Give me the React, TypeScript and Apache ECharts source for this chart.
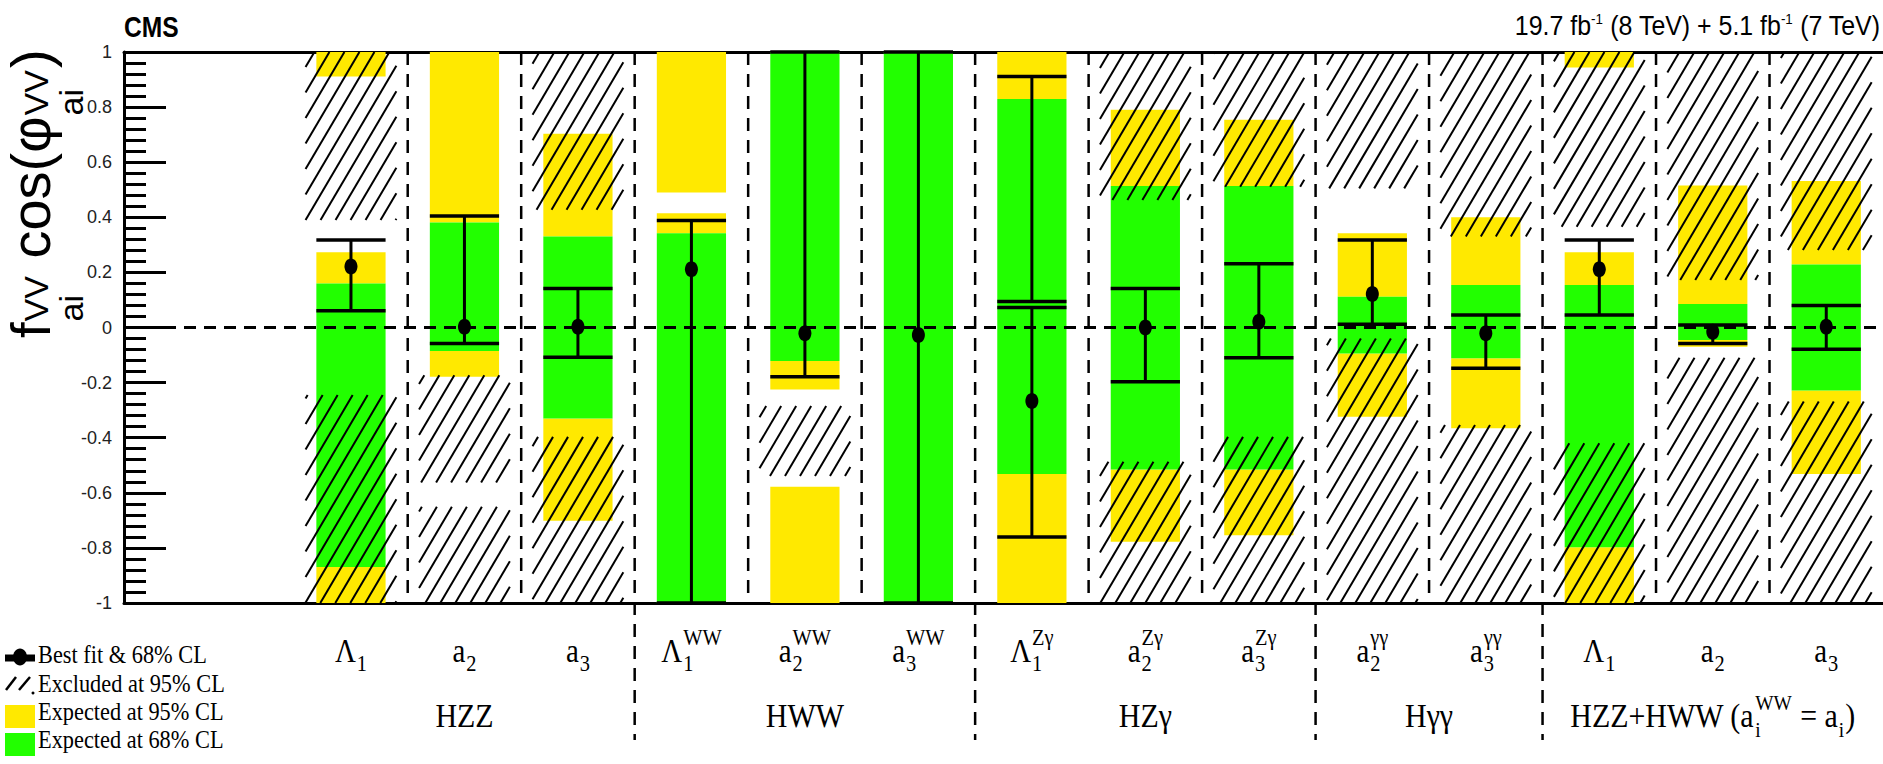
import React, { useEffect, useRef } from "react";
import * as echarts from "echarts";

// ---------- data ----------
const catMain = ["Λ", "a", "a", "Λ", "a", "a", "Λ", "a", "a", "a", "a", "Λ", "a", "a"];
const catSub = ["1", "2", "3", "1", "2", "3", "1", "2", "3", "2", "3", "1", "2", "3"];
const catSup = ["", "", "", "WW", "WW", "WW", "Zγ", "Zγ", "Zγ", "γγ", "γγ", "", "", ""];
const groupNames = ["HZZ", "HWW", "HZγ", "Hγγ"];
const groupCenters = [1, 4, 7, 9.5, 12];
const groupSeparators = [2.5, 5.5, 8.5, 10.5];
const categorySeparators = [0.5, 1.5, 3.5, 4.5, 6.5, 7.5, 9.5, 11.5, 12.5];

const bestFit = [0.221, 0.003, 0.003, 0.211, -0.021, -0.027, -0.267, 0.0, 0.021, 0.122, -0.021, 0.211, -0.015, 0.003];

const cl68: [number, number, number][] = [
  [0, 0.061, 0.318], [1, -0.058, 0.405], [2, -0.108, 0.142], [3, -1, 0.388],
  [4, -0.179, 1], [5, -1, 1], [6, 0.094, 0.911], [6, -0.76, 0.073],
  [7, -0.197, 0.142], [8, -0.11, 0.231], [9, 0.012, 0.318], [10, -0.148, 0.045],
  [11, 0.045, 0.318], [12, -0.058, 0.009], [13, -0.079, 0.08],
];

const expected68: [number, number, number][] = [
  [0, -0.869, 0.16], [1, -0.085, 0.381], [2, -0.33, 0.33], [3, -1, 0.342],
  [4, -0.122, 1], [5, -1, 1], [6, -0.532, 0.829], [7, -0.515, 0.514],
  [8, -0.515, 0.514], [9, -0.094, 0.112], [10, -0.112, 0.154], [11, -0.798, 0.154],
  [12, -0.045, 0.085], [13, -0.229, 0.229],
];

const expected95: [number, number, number][] = [
  [0, -1, -0.869], [0, 0.16, 0.273], [0, 0.911, 1],
  [1, -0.179, -0.085], [1, 0.381, 1],
  [2, -0.701, -0.33], [2, 0.33, 0.703],
  [3, 0.342, 0.415], [3, 0.49, 1],
  [4, -1, -0.578], [4, -0.225, -0.122],
  [6, -1, -0.532], [6, 0.829, 1],
  [7, -0.778, -0.515], [7, 0.514, 0.79],
  [8, -0.754, -0.515], [8, 0.514, 0.754],
  [9, -0.324, -0.094], [9, 0.112, 0.342],
  [10, -0.366, -0.112], [10, 0.154, 0.4],
  [11, -1, -0.798], [11, 0.154, 0.273], [11, 0.944, 1],
  [12, -0.07, -0.045], [12, 0.085, 0.515],
  [13, -0.532, -0.229], [13, 0.229, 0.532],
];

const excluded95: [number, number, number][] = [
  [0, 0.39, 1], [0, -1, -0.245],
  [1, -0.563, -0.173], [1, -1, -0.651],
  [2, 0.427, 1], [2, -1, -0.397],
  [4, -0.539, -0.285],
  [7, 0.463, 1], [7, -1, -0.487],
  [8, 0.511, 1], [8, -1, -0.397],
  [9, 0.505, 1], [9, -1, -0.04],
  [10, 0.33, 1], [10, -1, -0.354],
  [11, 0.366, 1], [11, -1, -0.42],
  [12, 0.172, 1], [12, -1, -0.11],
  [13, 0.281, 1], [13, -1, -0.269],
];

const legendLabels = ["Best fit & 68% CL", "Excluded at 95% CL", "Expected at 95% CL", "Expected at 68% CL"];

// ---------- styling ----------
const YELLOW = "#ffe900";
const GREEN = "#22ff00";
const SANS = '"Liberation Sans", Arial, sans-serif';
const SERIF = '"Liberation Serif", "Times New Roman", serif';
const BAR_W = 0.61;
const HATCH_W = 0.8;
const X_MIN = -2;
const X_MAX = 13.5;
const Y_MIN = -1;
const Y_MAX = 1;

let measureCtx: CanvasRenderingContext2D | null = null;
function tw(text: string, size: number, family: string, weight = "normal"): number {
  if (!measureCtx) measureCtx = document.createElement("canvas").getContext("2d");
  if (!measureCtx) return text.length * size * 0.5;
  measureCtx.font = `${weight} ${size}px ${family}`;
  return measureCtx.measureText(text).width;
}

function txt(x: number, baseline: number, text: string, size: number, family: string, align: string, extra: any = {}) {
  const k = family === SERIF ? 0.3375 : 0.3465;
  const { style: extraStyle, ...rest } = extra;
  return {
    type: "text",
    x,
    y: baseline - k * size,
    silent: true,
    ...rest,
    style: {
      text,
      fontSize: size,
      fontFamily: family,
      fill: "#000",
      align,
      textAlign: align,
      verticalAlign: "middle",
      textVerticalAlign: "middle",
      ...(extraStyle || {}),
    },
  };
}

function rectSeries(name: string, data: [number, number, number][], color: string) {
  return {
    type: "custom",
    name,
    data,
    silent: true,
    encode: { x: 0, y: [1, 2] },
    renderItem: (_p: any, api: any) => {
      const c = api.value(0);
      const top = api.coord([c, api.value(2)]);
      const bot = api.coord([c, api.value(1)]);
      const w = api.size([BAR_W, 0])[0];
      return {
        type: "rect",
        shape: { x: top[0] - w / 2, y: top[1], width: w, height: bot[1] - top[1] },
        style: { fill: color },
      };
    },
  };
}

function hatchSeries() {
  return {
    type: "custom",
    name: "Excluded at 95% CL",
    data: excluded95,
    silent: true,
    encode: { x: 0, y: [1, 2] },
    renderItem: (_p: any, api: any) => {
      const c = api.value(0);
      const top = api.coord([c, api.value(2)]);
      const bot = api.coord([c, api.value(1)]);
      const w = api.size([HATCH_W, 0])[0];
      const x0 = top[0] - w / 2, x1 = top[0] + w / 2, y0 = top[1], y1 = bot[1];
      const s = 1.7, step = 15;
      const children: any[] = [];
      const kMin = x0 + y0 / s, kMax = x1 + y1 / s;
      for (let k = Math.ceil(kMin / step) * step; k <= kMax; k += step) {
        const ya = Math.max(y0, s * (k - x1));
        const yb = Math.min(y1, s * (k - x0));
        if (yb - ya < 1) continue;
        children.push({
          type: "line",
          shape: { x1: k - ya / s, y1: ya, x2: k - yb / s, y2: yb },
          style: { stroke: "#000", lineWidth: 2 },
        });
      }
      return { type: "group", children };
    },
  };
}

function separatorSeries(data: number[], extend: number) {
  return {
    type: "custom",
    data: data.map((v) => [v, 0]),
    silent: true,
    clip: false,
    encode: { x: 0, y: 1 },
    renderItem: (_p: any, api: any) => {
      const b = api.value(0);
      const top = api.coord([b, Y_MAX]);
      const bot = api.coord([b, Y_MIN]);
      return {
        type: "line",
        shape: { x1: top[0], y1: top[1], x2: bot[0], y2: bot[1] + extend },
        style: { stroke: "#000", lineWidth: 2.5, lineDash: [13, 9] },
      };
    },
  };
}

const option: any = {
  animation: false,
  backgroundColor: "#fff",
  grid: { left: 124, right: 0, top: 52, bottom: 161, containLabel: false },
  xAxis: [
    {
      type: "value", min: X_MIN, max: X_MAX, position: "bottom",
      axisLine: { show: true, onZero: false, lineStyle: { color: "#000", width: 3 } },
      axisTick: { show: false }, axisLabel: { show: false }, splitLine: { show: false },
    },
    {
      type: "value", min: X_MIN, max: X_MAX, position: "top",
      axisLine: { show: true, onZero: false, lineStyle: { color: "#000", width: 3 } },
      axisTick: { show: false }, axisLabel: { show: false }, splitLine: { show: false },
    },
  ],
  yAxis: {
    type: "value", min: Y_MIN, max: Y_MAX, interval: 0.2,
    axisLine: { show: true, onZero: false, lineStyle: { color: "#000", width: 3 } },
    axisTick: { show: true, inside: true, length: 42, lineStyle: { color: "#000", width: 3 } },
    minorTick: { show: true, splitNumber: 5, length: 22, lineStyle: { color: "#000", width: 3 } },
    axisLabel: { fontSize: 18, fontFamily: SANS, color: "#222", margin: 12 },
    splitLine: { show: false },
  },
  series: [
    rectSeries("Expected at 95% CL", expected95, YELLOW),
    rectSeries("Expected at 68% CL", expected68, GREEN),
    hatchSeries(),
    separatorSeries(categorySeparators, 0),
    separatorSeries(groupSeparators, 137),
    {
      type: "custom",
      name: "68% CL",
      data: cl68,
      silent: true,
      encode: { x: 0, y: [1, 2] },
      renderItem: (_p: any, api: any) => {
        const c = api.value(0);
        const top = api.coord([c, api.value(2)]);
        const bot = api.coord([c, api.value(1)]);
        const w = api.size([BAR_W, 0])[0];
        const st = { stroke: "#000", lineWidth: 3 };
        return {
          type: "group",
          children: [
            { type: "line", shape: { x1: top[0], y1: top[1], x2: bot[0], y2: bot[1] }, style: st },
            { type: "line", shape: { x1: top[0] - w / 2, y1: top[1], x2: top[0] + w / 2, y2: top[1] }, style: { ...st, lineWidth: 3.5 } },
            { type: "line", shape: { x1: bot[0] - w / 2, y1: bot[1], x2: bot[0] + w / 2, y2: bot[1] }, style: { ...st, lineWidth: 3.5 } },
          ],
        };
      },
    },
    {
      type: "custom",
      name: "Best fit",
      data: bestFit.map((v, i) => [i, v]),
      silent: true,
      encode: { x: 0, y: 1 },
      renderItem: (_p: any, api: any) => {
        const p = api.coord([api.value(0), api.value(1)]);
        return { type: "ellipse", shape: { cx: p[0], cy: p[1], rx: 6.5, ry: 8 }, style: { fill: "#000" } };
      },
      markLine: {
        silent: true,
        symbol: "none",
        label: { show: false },
        lineStyle: { color: "#000", width: 3, type: [12, 8] },
        data: [{ yAxis: 0 }],
      },
    },
  ],
};

function buildGraphics(px: (v: number) => number): any[] {
  const els: any[] = [];
  // CMS
  els.push(txt(124, 37, "CMS", 30, SANS, "left", { scaleX: 0.82, style: { fontWeight: "bold" } }));
  // luminosity
  els.push({
    type: "text", x: 1880, y: 25, scaleX: 0.89, silent: true,
    style: {
      text: "{n|19.7 fb}{s|-1}{n| (8 TeV) + 5.1 fb}{s|-1}{n| (7 TeV)}",
      align: "right", textAlign: "right", verticalAlign: "middle", textVerticalAlign: "middle",
      fill: "#000",
      rich: {
        n: { fontSize: 28, fontFamily: SANS, fill: "#000", color: "#000" },
        s: { fontSize: 15, fontFamily: SANS, fill: "#000", color: "#000", verticalAlign: "top" },
      },
    },
  });

  // y-axis title (rotated)
  const F = 56, Fs = 34;
  const kS = 0.3465;
  const tChildren: any[] = [];
  let pos = 0;
  const mk = (x: number, baseline: number, t: string, size: number) => ({
    type: "text", x, y: baseline - kS * size, silent: true,
    style: { text: t, fontSize: size, fontFamily: SANS, fill: "#000", align: "left", textAlign: "left", verticalAlign: "middle", textVerticalAlign: "middle" },
  });
  tChildren.push(mk(pos, 0, "f", F));
  pos += tw("f", F, SANS) + 1;
  tChildren.push(mk(pos, -2, "VV", Fs));
  tChildren.push(mk(pos, 33, "ai", Fs));
  pos += Math.max(tw("VV", Fs, SANS), tw("ai", Fs, SANS)) + 2;
  tChildren.push(mk(pos, 0, " cos(φ", F));
  pos += tw(" cos(φ", F, SANS) + 1;
  tChildren.push(mk(pos, -2, "VV", Fs));
  tChildren.push(mk(pos, 33, "ai", Fs));
  pos += Math.max(tw("VV", Fs, SANS), tw("ai", Fs, SANS)) + 2;
  tChildren.push(mk(pos, 0, ")", F));
  els.push({ type: "group", x: 50, y: 338, rotation: Math.PI / 2, silent: true, children: tChildren });

  // category labels
  const FM = 34, FS = 24, SC = 0.85;
  for (let i = 0; i < catMain.length; i++) {
    const cx = px(i);
    const wm = tw(catMain[i], FM, SERIF) * SC;
    const ws = Math.max(tw(catSub[i], FS, SERIF), catSup[i] ? tw(catSup[i], FS, SERIF) : 0) * SC;
    const start = cx - (wm + ws + 1) / 2;
    els.push(txt(start, 662, catMain[i], FM, SERIF, "left", { scaleX: SC }));
    els.push(txt(start + wm + 1, 671, catSub[i], FS, SERIF, "left", { scaleX: SC }));
    if (catSup[i]) els.push(txt(start + wm + 1, 645, catSup[i], FS, SERIF, "left", { scaleX: SC }));
  }

  // group labels
  const FG = 34, GS = 0.88;
  for (let g = 0; g < groupNames.length; g++) {
    els.push(txt(px(groupCenters[g]), 727, groupNames[g], FG, SERIF, "center", { scaleX: GS }));
  }
  // combined group label: HZZ+HWW (a_i^WW = a_i)
  {
    const parts: [string, string][] = [["m", "HZZ+HWW (a"], ["ss", "WW|i"], ["m", " = a"], ["sub", "i"], ["m", ")"]];
    const FSS = 22;
    const widths = parts.map(([k, t]) => {
      if (k === "m") return tw(t, FG, SERIF) * GS;
      if (k === "ss") return Math.max(tw("WW", FSS, SERIF), tw("i", FSS, SERIF)) * GS + 2;
      return tw(t, FSS, SERIF) * GS + 2;
    });
    const total = widths.reduce((a, b) => a + b, 0);
    let x = px(groupCenters[4]) - total / 2;
    parts.forEach(([k, t], j) => {
      if (k === "m") els.push(txt(x, 727, t, FG, SERIF, "left", { scaleX: GS }));
      else if (k === "ss") {
        els.push(txt(x + 1, 710, "WW", FSS, SERIF, "left", { scaleX: GS }));
        els.push(txt(x + 1, 737, "i", FSS, SERIF, "left", { scaleX: GS }));
      } else els.push(txt(x + 1, 737, t, FSS, SERIF, "left", { scaleX: GS }));
      x += widths[j];
    });
  }

  // legend
  const FL = 26;
  const baselines = [663, 692, 720, 748];
  els.push({ type: "line", silent: true, shape: { x1: 5, y1: 658, x2: 35, y2: 658 }, style: { stroke: "#000", lineWidth: 7 } });
  els.push({ type: "ellipse", silent: true, shape: { cx: 20, cy: 657, rx: 7, ry: 8.5 }, style: { fill: "#000" } });
  els.push({ type: "line", silent: true, shape: { x1: 6, y1: 690, x2: 16, y2: 677 }, style: { stroke: "#000", lineWidth: 2.5 } });
  els.push({ type: "line", silent: true, shape: { x1: 19, y1: 690, x2: 30, y2: 677 }, style: { stroke: "#000", lineWidth: 2.5 } });
  els.push({ type: "circle", silent: true, shape: { cx: 33, cy: 693, r: 1.5 }, style: { fill: "#000" } });
  els.push({ type: "rect", silent: true, shape: { x: 5, y: 705, width: 30, height: 23 }, style: { fill: YELLOW } });
  els.push({ type: "rect", silent: true, shape: { x: 5, y: 733, width: 30, height: 23 }, style: { fill: GREEN } });
  legendLabels.forEach((t, j) => {
    els.push(txt(38, baselines[j], t, FL, SERIF, "left", { scaleX: 0.86 }));
  });
  return els;
}

export default function App() {
  const ref = useRef<HTMLDivElement>(null);
  useEffect(() => {
    if (!ref.current) return;
    const chart = echarts.init(ref.current, null, { renderer: "svg" });
    chart.setOption(option);
    const px = (v: number) => chart.convertToPixel({ xAxisIndex: 0 }, v) as unknown as number;
    chart.setOption({ graphic: buildGraphics(px) });
    return () => chart.dispose();
  }, []);
  return (
    <div
      ref={ref}
      style={{ position: "absolute", left: 0, top: 0, width: 1883, height: 764, background: "#fff" }}
    />
  );
}
